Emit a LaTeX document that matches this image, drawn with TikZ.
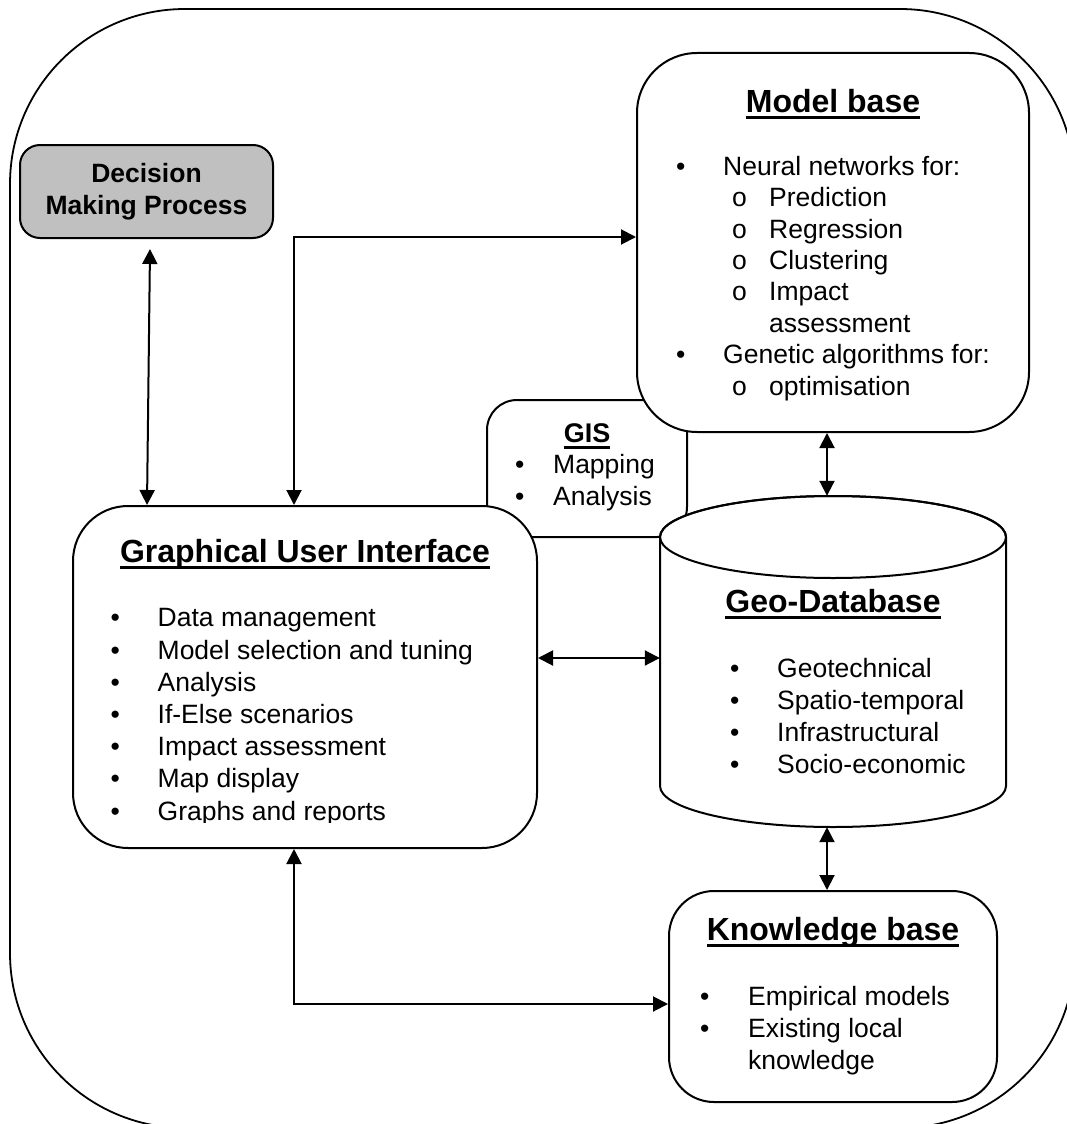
\documentclass[tikz,border=0pt]{standalone}
\usepackage{fontspec}
\setmainfont{Liberation Sans}
\usetikzlibrary{arrows.meta}

\definecolor{dmpgray}{HTML}{C0C0C0}
\newcommand{\blt}[2][47pt]{\makebox[#1][l]{\textbullet}#2}
\newcommand{\sblt}[1]{\hspace*{56pt}\makebox[37pt][l]{o}#1}
\newcommand{\ultitle}[1]{\setbox0\hbox{#1}\rlap{\rule[-6.5pt]{\wd0}{3pt}}\box0}

\begin{document}
\begin{tikzpicture}[x=1pt,y=1pt,
  rbox/.style={draw, line width=2pt, fill=white, rounded corners=#1, inner sep=0pt},
  biarr/.style={{Triangle[length=15pt,width=15pt]}-{Triangle[length=15pt,width=15pt]}, line width=2pt},
  ttl/.style={font=\fontsize{32}{38}\selectfont\bfseries, anchor=base, inner sep=0pt},
  lst/.style={font=\fontsize{26.5}{32}\selectfont, anchor=base west, align=left, inner sep=0pt}]

\useasboundingbox (0,0) rectangle (1066,-1124);

% outer frame
\draw[line width=1.8pt, rounded corners=175pt] (10,-9) rectangle (1075,-1128);

% boxes (GIS first, the others lie over it)
\node[rbox=30pt, minimum width=200pt, minimum height=137pt] (gis) at (587,-468.5) {};
\node[rbox=60pt, minimum width=392pt, minimum height=379pt] (model) at (833,-242.5) {};
\node[rbox=55pt, minimum width=464pt, minimum height=342pt] (gui) at (305,-677) {};
\node[rbox=45pt, minimum width=328pt, minimum height=211pt] (kb) at (833,-996.5) {};
\node[rbox=20pt, fill=dmpgray, minimum width=253pt, minimum height=93pt,
    align=center, font=\fontsize{26.5}{32}\selectfont\bfseries] (dmp) at (146.5,-191.5)
{Decision\\Making Process};

% geo-database cylinder
\node[minimum width=346pt, minimum height=331pt, inner sep=0pt] (geo) at (833,-661.5) {};
\filldraw[fill=white, line width=2pt] (660,-537) -- (660,-786)
    arc[start angle=180, end angle=360, x radius=173, y radius=41] -- (1006,-537)
    arc[start angle=0, end angle=180, x radius=173, y radius=41] -- cycle;
\draw[line width=2pt] (833,-537) ellipse[x radius=173, y radius=41];

% texts (lists are placed by the baseline of their last line)
\node[ttl] (modelttl) at (833,-112) {\ultitle{Model base}};
\node[lst, font=\fontsize{26.5}{31.4}\selectfont] (modellst) at (676,-395)
{\blt{Neural networks for:}\\ \sblt{Prediction}\\ \sblt{Regression}\\ \sblt{Clustering}\\
 \sblt{Impact}\\ \hspace*{93pt}assessment\\ \blt{Genetic algorithms for:}\\ \sblt{optimisation}};

\node[ttl, font=\fontsize{27}{32}\selectfont\bfseries] (gisttl) at (587,-442) {\ultitle{GIS}};
\node[lst] (gislst) at (515,-505) {\blt[38pt]{Mapping}\\ \blt[38pt]{Analysis}};

\node[ttl] (guittl) at (305,-562) {\ultitle{Graphical User Interface}};
\begin{scope}
\clip (60,-506) rectangle (540,-822);
\node[lst, font=\fontsize{26.5}{32.2}\selectfont] (guilst) at (110.5,-820)
{\blt{Data management}\\ \blt{Model selection and tuning}\\ \blt{Analysis}\\
 \blt{If-Else scenarios}\\ \blt{Impact assessment}\\ \blt{Map display}\\ \blt{Graphs and reports}};
\end{scope}

\node[ttl] (geottl) at (833,-612) {\ultitle{Geo-Database}};
\node[lst] (geolst) at (730,-773)
{\blt{Geotechnical}\\ \blt{Spatio-temporal}\\ \blt{Infrastructural}\\ \blt{Socio-economic}};

\node[ttl] (kbttl) at (833,-940) {\ultitle{Knowledge base}};
\node[lst] (kblst) at (700,-1069)
{\blt[48pt]{Empirical models}\\ \blt[48pt]{Existing local}\\ \hspace*{48pt}knowledge};

% connectors
\draw[biarr] ([shift={(3.5,-10)}]dmp.south) -- ([xshift=-158]gui.north);
\draw[biarr] ([xshift=-11]gui.north) |- ([yshift=5.5]model.west);
\draw[biarr] ([xshift=-6]model.south) -- ([xshift=-6]geo.north);
\draw[biarr] ([yshift=19]gui.east) -- ([yshift=19]gui.east -| geo.west);
\draw[biarr] ([xshift=-6]geo.south) -- ([xshift=-6]kb.north);
\draw[biarr] ([xshift=-11]gui.south) |- ([yshift=-7.5]kb.west);

\end{tikzpicture}
\end{document}
